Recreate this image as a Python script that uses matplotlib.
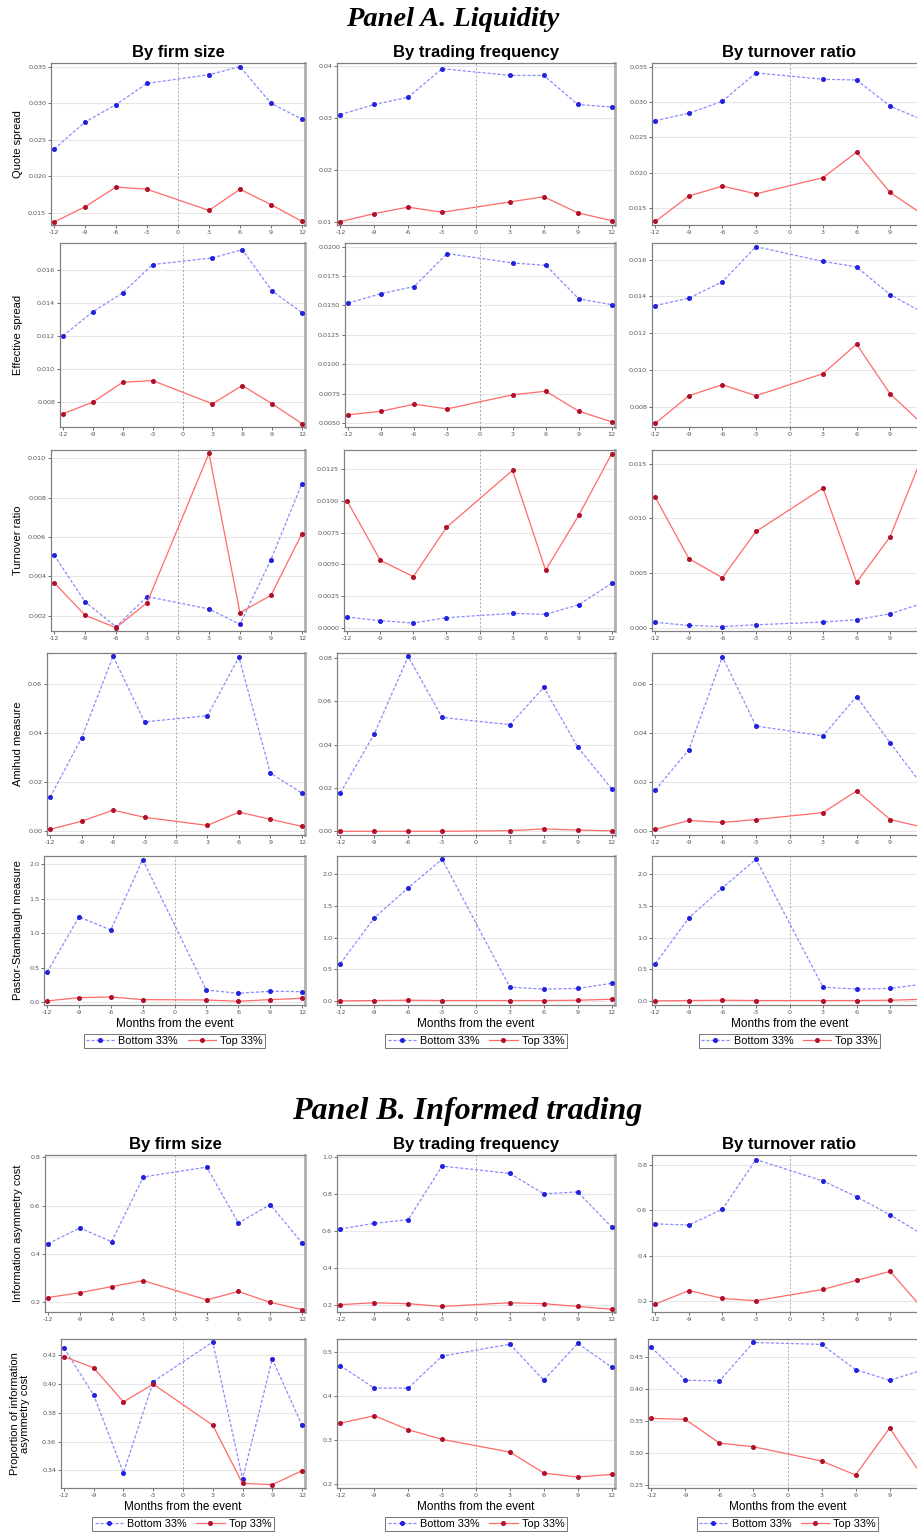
import matplotlib
matplotlib.use("Agg")
import matplotlib.pyplot as plt
from matplotlib.lines import Line2D

W, H = 917, 1532

months = [-12, -9, -6, -3, 3, 6, 9, 12]
xticks = [-12, -9, -6, -3, 0, 3, 6, 9, 12]

# Panel A: liquidity
quote_size_bot = [0.0237, 0.0274, 0.0298, 0.0327, 0.0339, 0.0350, 0.0300, 0.0278]
quote_size_top = [0.0137, 0.0158, 0.0185, 0.0182, 0.0153, 0.0182, 0.0161, 0.0138]
quote_freq_bot = [0.03065, 0.0326, 0.0340, 0.0395, 0.0382, 0.0382, 0.0326, 0.0321]
quote_freq_top = [0.0100, 0.01155, 0.0128, 0.0118, 0.0138, 0.0148, 0.0117, 0.0102]
quote_turn_bot = [0.02736, 0.0284, 0.0301, 0.0341, 0.0332, 0.0331, 0.0294, 0.0274]
quote_turn_top = [0.0131, 0.0167, 0.0181, 0.0170, 0.0193, 0.0229, 0.0172, 0.0140]

eff_size_bot = [0.0120, 0.01345, 0.0146, 0.0163, 0.0167, 0.0172, 0.0147, 0.0134]
eff_size_top = [0.0073, 0.0080, 0.0092, 0.0093, 0.0079, 0.0090, 0.0079, 0.0067]
eff_freq_bot = [0.0152, 0.0160, 0.0166, 0.0194, 0.0186, 0.0184, 0.01555, 0.01506]
eff_freq_top = [0.0057, 0.0060, 0.0066, 0.0062, 0.0074, 0.0077, 0.0060, 0.0051]
eff_turn_bot = [0.0135, 0.0139, 0.0148, 0.0167, 0.0159, 0.0156, 0.0141, 0.0131]
eff_turn_top = [0.0071, 0.0086, 0.0092, 0.0086, 0.0098, 0.0114, 0.0087, 0.0070]

turn_size_bot = [0.00508, 0.0027, 0.00144, 0.00297, 0.00234, 0.00156, 0.00484, 0.00871]
turn_size_top = [0.00368, 0.00202, 0.00139, 0.00266, 0.01025, 0.00215, 0.00303, 0.00617]
turn_freq_bot = [0.00084, 0.00055, 0.00037, 0.00079, 0.00113, 0.00105, 0.00181, 0.00349]
turn_freq_top = [0.00997, 0.0053, 0.00403, 0.0079, 0.0124, 0.00453, 0.00884, 0.0137]
turn_turn_bot = [0.00049, 0.00021, 0.0001, 0.00027, 0.00052, 0.00073, 0.00128, 0.00226]
turn_turn_top = [0.01192, 0.00631, 0.00457, 0.0088, 0.01277, 0.00415, 0.00832, 0.0160]

amihud_size_bot = [0.0139, 0.0380, 0.0712, 0.0445, 0.0470, 0.0708, 0.0237, 0.0155]
amihud_size_top = [0.0008, 0.0041, 0.0086, 0.0057, 0.0024, 0.0078, 0.0049, 0.0020]
amihud_freq_bot = [0.0178, 0.0450, 0.0808, 0.0526, 0.0493, 0.0665, 0.0389, 0.0197]
amihud_freq_top = [0.0000, 0.0000, 0.0000, 0.0000, 0.0003, 0.0011, 0.0006, 0.0002]
amihud_turn_bot = [0.0168, 0.0332, 0.0710, 0.0428, 0.0388, 0.0548, 0.0360, 0.0180]
amihud_turn_top = [0.0008, 0.0044, 0.0036, 0.0048, 0.0076, 0.0164, 0.0048, 0.0016]

ps_size_bot = [0.436, 1.235, 1.046, 2.068, 0.174, 0.126, 0.155, 0.150]
ps_size_top = [0.015, 0.063, 0.073, 0.034, 0.029, 0.010, 0.034, 0.053]
ps_freq_bot = [0.59, 1.31, 1.78, 2.23, 0.22, 0.19, 0.20, 0.28]
ps_freq_top = [0.005, 0.010, 0.015, 0.010, 0.010, 0.010, 0.015, 0.030]
ps_turn_bot = [0.59, 1.31, 1.78, 2.23, 0.22, 0.19, 0.20, 0.27]
ps_turn_top = [0.005, 0.010, 0.015, 0.010, 0.010, 0.010, 0.015, 0.030]

# Panel B: informed trading
iac_size_bot = [0.443, 0.508, 0.451, 0.719, 0.760, 0.528, 0.605, 0.447]
iac_size_top = [0.220, 0.240, 0.265, 0.290, 0.210, 0.245, 0.200, 0.170]
iac_freq_bot = [0.61, 0.64, 0.66, 0.95, 0.91, 0.80, 0.81, 0.62]
iac_freq_top = [0.20, 0.21, 0.205, 0.19, 0.21, 0.205, 0.19, 0.175]
iac_turn_bot = [0.540, 0.535, 0.605, 0.825, 0.730, 0.660, 0.580, 0.490]
iac_turn_top = [0.185, 0.245, 0.210, 0.200, 0.250, 0.290, 0.330, 0.160]

piac_size_bot = [0.4249, 0.3921, 0.3384, 0.4016, 0.4290, 0.3340, 0.4172, 0.3713]
piac_size_top = [0.4189, 0.4111, 0.3875, 0.3998, 0.3713, 0.3310, 0.3301, 0.3398]
piac_freq_bot = [0.469, 0.418, 0.418, 0.491, 0.518, 0.436, 0.520, 0.466]
piac_freq_top = [0.338, 0.355, 0.323, 0.301, 0.272, 0.224, 0.215, 0.221]
piac_turn_bot = [0.4657, 0.4141, 0.4131, 0.4736, 0.4705, 0.4309, 0.4141, 0.4306]
piac_turn_top = [0.3542, 0.3526, 0.3154, 0.3096, 0.2872, 0.2652, 0.3390, 0.2605]

col_titles = ["By firm size", "By trading frequency", "By turnover ratio"]
row_labels = ["Quote spread", "Effective spread", "Turnover ratio", "Amihud measure",
              "Pastor-Stambaugh measure", "Information asymmetry cost",
              "Proportion of information\nasymmetry cost"]

series = [
    [(quote_size_bot, quote_size_top), (quote_freq_bot, quote_freq_top), (quote_turn_bot, quote_turn_top)],
    [(eff_size_bot, eff_size_top), (eff_freq_bot, eff_freq_top), (eff_turn_bot, eff_turn_top)],
    [(turn_size_bot, turn_size_top), (turn_freq_bot, turn_freq_top), (turn_turn_bot, turn_turn_top)],
    [(amihud_size_bot, amihud_size_top), (amihud_freq_bot, amihud_freq_top), (amihud_turn_bot, amihud_turn_top)],
    [(ps_size_bot, ps_size_top), (ps_freq_bot, ps_freq_top), (ps_turn_bot, ps_turn_top)],
    [(iac_size_bot, iac_size_top), (iac_freq_bot, iac_freq_top), (iac_turn_bot, iac_turn_top)],
    [(piac_size_bot, piac_size_top), (piac_freq_bot, piac_freq_top), (piac_turn_bot, piac_turn_top)],
]

# y axis settings per panel: (ymin, ymax, first tick, last tick, step, format)
yaxes = [
    [(0.0133, 0.0355, 0.015, 0.035, 0.005, "%.3f"), (0.00935, 0.0406, 0.01, 0.04, 0.01, "%.2f"),
     (0.0126, 0.0355, 0.015, 0.035, 0.005, "%.3f")],
    [(0.0065, 0.0176, 0.008, 0.016, 0.002, "%.3f"), (0.00466, 0.0203, 0.005, 0.020, 0.0025, "%.4f"),
     (0.0069, 0.0169, 0.008, 0.016, 0.002, "%.3f")],
    [(0.00122, 0.01042, 0.002, 0.010, 0.002, "%.3f"), (-0.00026, 0.0140, 0.0, 0.0125, 0.0025, "%.4f"),
     (-0.0003, 0.01625, 0.0, 0.015, 0.005, "%.3f")],
    [(-0.0015, 0.0725, 0.0, 0.06, 0.02, "%.2f"), (-0.0017, 0.0824, 0.0, 0.08, 0.02, "%.2f"),
     (-0.0015, 0.0725, 0.0, 0.06, 0.02, "%.2f")],
    [(-0.044, 2.12, 0.0, 2.0, 0.5, "%.1f"), (-0.06, 2.28, 0.0, 2.0, 0.5, "%.1f"),
     (-0.06, 2.28, 0.0, 2.0, 0.5, "%.1f")],
    [(0.16, 0.81, 0.2, 0.8, 0.2, "%.1f"), (0.16, 1.01, 0.2, 1.0, 0.2, "%.1f"),
     (0.15, 0.845, 0.2, 0.8, 0.2, "%.1f")],
    [(0.3278, 0.4311, 0.34, 0.42, 0.02, "%.2f"), (0.19, 0.53, 0.2, 0.5, 0.1, "%.1f"),
     (0.2448, 0.479, 0.25, 0.45, 0.05, "%.2f")],
]

# pixel layout
row_px = [(63, 225), (243, 427), (450, 631), (653, 835), (856, 1005), (1155, 1312), (1339, 1488)]
left_px = [(51, 337, 652), (60, 345, 652), (51, 344, 652), (47, 337, 652),
           (44, 337, 652), (45, 337, 652), (61, 337, 648)]
right_px = (305, 615, 927)

BLUE_LINE = "#8a8aff"
BLUE_MK = "#2222dd"
RED_LINE = "#ff6a6a"
RED_MK = "#b0102a"

fig = plt.figure(figsize=(W / 100, H / 100), dpi=100)


def fx(x):
    return x / W


def fy(y):
    return 1 - y / H


for r in range(7):
    top, bot = row_px[r]
    for c in range(3):
        l = left_px[r][c]
        rr = right_px[c]
        ax = fig.add_axes([fx(l), fy(bot), (rr - l) / W, (bot - top) / H])
        b, t = series[r][c]
        ymin, ymax, t0, t1, st, fmt = yaxes[r][c]
        ax.axvline(0, color="#a8a8a8", lw=0.7, ls=(0, (2, 2)), zorder=1)
        ax.plot(months, b, color=BLUE_LINE, lw=0.9, ls=(0, (2.5, 1.5)), marker="o",
                ms=2.6, mfc=BLUE_MK, mec=BLUE_MK, zorder=3)
        ax.plot(months, t, color=RED_LINE, lw=0.9, ls="-", marker="o",
                ms=2.6, mfc=RED_MK, mec=RED_MK, zorder=3)
        ax.set_xlim(-12.3, 12.3)
        ax.set_ylim(ymin, ymax)
        n = int(round((t1 - t0) / st)) + 1
        yt = [t0 + i * st for i in range(n)]
        ax.set_yticks(yt)
        ax.set_yticklabels([fmt % v for v in yt])
        ax.set_xticks(xticks)
        # the right column runs past the page edge, so its "12" is not shown
        xl = [str(v) for v in xticks]
        if c == 2:
            xl[-1] = ""
        ax.set_xticklabels(xl)
        ax.grid(axis="y", color="#e6e6e6", lw=0.8)
        ax.set_axisbelow(True)
        ax.tick_params(labelsize=4.6, colors="#555555", length=2, width=0.6, pad=1.5)
        for s in ax.spines.values():
            s.set_color("#808080")
            s.set_linewidth(0.9)
        ax.spines["right"].set_color("#b0b0b0")
        ax.spines["right"].set_linewidth(2.0)

        cx = (l + rr) / 2
        if r in (0, 5):
            ty = 52 if r == 0 else 1144
            fig.text(fx(cx), fy(ty), col_titles[c], ha="center", va="center",
                     fontsize=12, fontweight="bold", family="Liberation Sans")
        if r in (4, 6):
            xl_y = 1024 if r == 4 else 1507
            lg_y = 1041 if r == 4 else 1524
            fig.text(fx(cx), fy(xl_y), "Months from the event", ha="center", va="center",
                     fontsize=8.5, family="Liberation Sans")
            handles = [
                Line2D([], [], color=BLUE_LINE, lw=0.9, ls=(0, (2.5, 1.5)), marker="o",
                       ms=2.6, mfc=BLUE_MK, mec=BLUE_MK),
                Line2D([], [], color=RED_LINE, lw=0.9, marker="o", ms=2.6,
                       mfc=RED_MK, mec=RED_MK),
            ]
            leg = fig.legend(handles, ["Bottom 33%", "Top 33%"], loc="center",
                             bbox_to_anchor=(fx(cx), fy(lg_y)), ncol=2,
                             frameon=True, fancybox=False, handlelength=2.6,
                             handletextpad=0.4, columnspacing=0.9, borderpad=0.2,
                             prop={"family": "Liberation Sans", "size": 7.8})
            leg.get_frame().set_edgecolor("#505050")
            leg.get_frame().set_linewidth(0.7)

    fig.text(fx(18 if r != 6 else 20), fy((top + bot) / 2), row_labels[r], rotation=90,
             ha="center", va="center", fontsize=8, family="Liberation Sans",
             linespacing=1.1)

fig.text(fx(453), fy(20), "Panel A. Liquidity", ha="center", va="center",
         fontsize=20.5, fontweight="bold", fontstyle="italic", family="Liberation Serif")
fig.text(fx(467), fy(1112), "Panel B. Informed trading", ha="center", va="center",
         fontsize=23, fontweight="bold", fontstyle="italic", family="Liberation Serif")

fig.savefig("out.png", dpi=100)
